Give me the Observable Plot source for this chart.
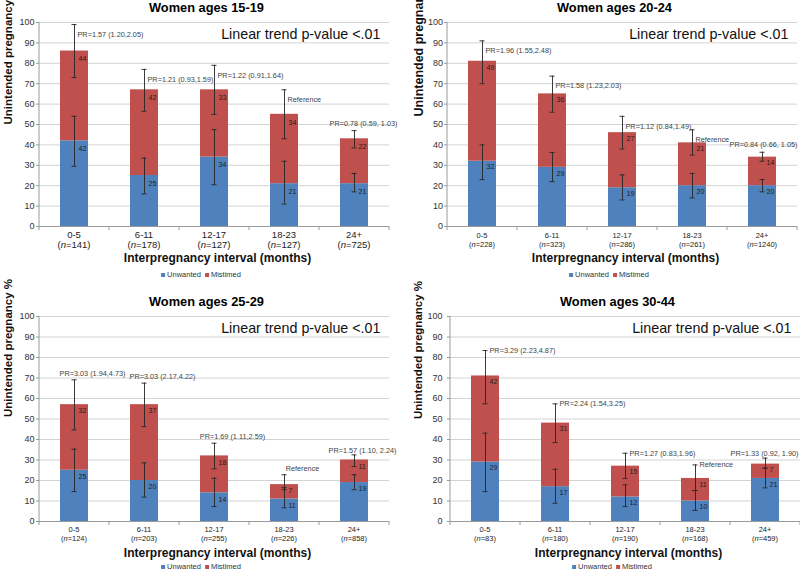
<!DOCTYPE html>
<html>
<head>
<meta charset="utf-8">
<script src="https://cdn.jsdelivr.net/npm/d3@7"></script>
<script src="https://cdn.jsdelivr.net/npm/@observablehq/plot@0.6"></script>
<style>
  html, body { margin: 0; padding: 0; background: #fff; }
  #root { position: relative; width: 800px; height: 572px; overflow: hidden; font-family: "Liberation Sans", Arial, sans-serif; }
  .panel { position: absolute; width: 400px; height: 286px; }
  .panel svg { position: absolute; left: 0; top: 0; overflow: visible; }
  .legend { position: absolute; transform: translate(-50%, -50%); font-size: 7.5px; line-height: 8px; color: #333; white-space: nowrap; display: flex; align-items: center; }
  .legend .item { display: inline-flex; align-items: center; margin: 0 2px; }
  .legend .sw { display: inline-block; width: 4px; height: 4px; margin-right: 2px; }
</style>
</head>
<body>
<div id="root"></div>
<script>
// ---------- shared labels ----------
const categories = ["0-5", "6-11", "12-17", "18-23", "24+"];
const seriesNames = ["Unwanted", "Mistimed"];
const seriesColors = ["#4F81BD", "#C0504D"];
const yTicks = [0, 10, 20, 30, 40, 50, 60, 70, 80, 90, 100];
const trendLabel = "Linear trend p-value <.01";
const xTitle = "Interpregnancy interval (months)";
const yTitle = "Unintended pregnancy %";

// ---------- Women ages 15-19 ----------
const title1519 = "Women ages 15-19";
const n1519 = [141, 178, 127, 127, 725];
const unwanted1519 = [42, 25, 34, 21, 21];
const mistimed1519 = [44, 42, 33, 34, 22];
const unwantedLo1519 = [29.5, 16, 20.5, 11, 17];
const unwantedHi1519 = [54, 33.5, 47.5, 32, 26];
const totalLo1519 = [73, 56.5, 55, 43, 38.5];
const totalHi1519 = [99, 77, 79, 67, 47];
const pr1519 = ["PR=1.57 (1.20,2.05)", "PR=1.21 (0.93,1.59)", "PR=1.22 (0.91,1.64)", "Reference", "PR=0.78 (0.59, 1.03)"];

// ---------- Women ages 20-24 ----------
const title2024 = "Women ages 20-24";
const n2024 = [228, 323, 286, 261, 1240];
const unwanted2024 = [32, 29, 19, 20, 20];
const mistimed2024 = [49, 36, 27, 21, 14];
const unwantedLo2024 = [23, 22, 13, 14, 17];
const unwantedHi2024 = [40, 36.3, 25.3, 26, 23];
const totalLo2024 = [70, 56, 38, 35, 32];
const totalHi2024 = [91, 73.7, 54, 47.4, 36.4];
const pr2024 = ["PR=1.96 (1.55,2.48)", "PR=1.58 (1.23,2.03)", "PR=1.12 (0.84,1.49)", "Reference", "PR=0.84 (0.66, 1.05)"];

// ---------- Women ages 25-29 ----------
const title2529 = "Women ages 25-29";
const n2529 = [124, 203, 255, 226, 858];
const unwanted2529 = [25, 20, 14, 11, 19];
const mistimed2529 = [32, 37, 18, 7, 11];
const unwantedLo2529 = [14.6, 11.9, 7.3, 6.7, 15.5];
const unwantedHi2529 = [35.3, 28.6, 21.1, 16.5, 22.8];
const totalLo2529 = [44.7, 46.3, 25.7, 15.5, 26.8];
const totalHi2529 = [69.1, 67.5, 38.2, 22.8, 32.5];
const pr2529 = ["PR=3.03 (1.94,4.73)", "PR=3.03 (2.17,4.22)", "PR=1.69 (1.11,2.59)", "Reference", "PR=1.57 (1.10, 2.24)"];

// ---------- Women ages 30-44 ----------
const title3044 = "Women ages 30-44";
const n3044 = [83, 180, 190, 168, 459];
const unwanted3044 = [29, 17, 12, 10, 21];
const mistimed3044 = [42, 31, 15, 11, 7];
const unwantedLo3044 = [14.6, 8.9, 7.3, 5.4, 16.4];
const unwantedHi3044 = [43.1, 25.5, 17.9, 15.1, 26];
const totalLo3044 = [57.4, 38.5, 21, 15.1, 26];
const totalHi3044 = [83.4, 57.4, 33.3, 27.6, 30.9];
const pr3044 = ["PR=3.29 (2.23,4.87)", "PR=2.24 (1.54,3.25)", "PR=1.27 (0.83,1.96)", "Reference", "PR=1.33 (0.92, 1.90)"];

// ---------- label placement styles ----------
const prStyles = {
  below: {textAnchor: "start", dx: 3, dy: 10, lineAnchor: "middle"},
  above: {textAnchor: "middle", dx: 18, dy: -4, lineAnchor: "bottom"},
  at:    {textAnchor: "start", dx: 4, dy: 0, lineAnchor: "middle"}
};

const panels = [
  {title: title1519, n: n1519, unwanted: unwanted1519, mistimed: mistimed1519, uLo: unwantedLo1519, uHi: unwantedHi1519, tLo: totalLo1519, tHi: totalHi1519, pr: pr1519,
   left: 0, top: 0, mt: 22, mb: 60, ml: 39, mr: 11, tickPad: 2, tickFont: 9.5, tick1: 11.5, tick2: 22, yTitleFont: 11.5, yTitleDx: -31.5, yTitleDy: 0, valDy: 8, prMode: "below", lastDx: 9, lastDy: -5, legendDy: 49},
  {title: title2024, n: n2024, unwanted: unwanted2024, mistimed: mistimed2024, uLo: unwantedLo2024, uHi: unwantedHi2024, tLo: totalLo2024, tHi: totalHi2024, pr: pr2024,
   left: 400, top: 0, mt: 22, mb: 60, ml: 47, mr: 3, tickPad: 1.5, tickFont: 7.5, tick1: 11.5, tick2: 20.5, yTitleFont: 12.5, yTitleDx: -29, yTitleDy: -8, valDy: 6, prMode: "below", lastDx: 1, lastDy: -5, legendDy: 49},
  {title: title2529, n: n2529, unwanted: unwanted2529, mistimed: mistimed2529, uLo: unwantedLo2529, uHi: unwantedHi2529, tLo: totalLo2529, tHi: totalHi2529, pr: pr2529,
   left: 0, top: 286, mt: 30, mb: 51, ml: 39, mr: 11, tickPad: 2, tickFont: 7.5, tick1: 11, tick2: 20.3, yTitleFont: 11.5, yTitleDx: -31.5, yTitleDy: -2, valDy: 6.5, prMode: "above", lastDx: 8, lastDy: -2, legendDy: 45.5},
  {title: title3044, n: n3044, unwanted: unwanted3044, mistimed: mistimed3044, uLo: unwantedLo3044, uHi: unwantedHi3044, tLo: totalLo3044, tHi: totalHi3044, pr: pr3044,
   left: 400, top: 286, mt: 30, mb: 51, ml: 50, mr: 0, tickPad: 5, tickFont: 7.5, tick1: 11, tick2: 20.3, yTitleFont: 11.5, yTitleDx: -32, yTitleDy: 0, valDy: 6, prMode: "at", lastDx: -1, lastDy: -2, legendDy: 45.5}
];

const AXIS = "#9a9a9a";
const GRID = "#d3d3d3";
const ERR = "#262626";

function decor(p) {
  return (index, scales, values, dims) => {
    const {x, y} = scales;
    const g = d3.create("svg:g").attr("font-family", "Liberation Sans, Arial, sans-serif");
    const y0 = y(0), y100 = y(100);
    const x0 = dims.marginLeft;
    g.append("line").attr("x1", x0).attr("x2", x0).attr("y1", y0).attr("y2", y100)
      .attr("stroke", AXIS).attr("stroke-width", 1);
    const bw = typeof x.bandwidth === "function" ? x.bandwidth() : (x.bandwidth || 0);
    const step = x(categories[1]) - x(categories[0]);
    const edges = categories.map(c => x(c) + bw / 2 - step / 2);
    edges.push(x(categories[categories.length - 1]) + bw / 2 + step / 2);
    for (const e of edges) {
      g.append("line").attr("x1", e).attr("x2", e).attr("y1", y0).attr("y2", y0 + 4)
        .attr("stroke", AXIS).attr("stroke-width", 1);
    }
    categories.forEach((c, i) => {
      const cx = x(c) + bw / 2;
      g.append("text").attr("x", cx).attr("y", y0 + p.tick1).attr("text-anchor", "middle")
        .attr("font-size", p.tickFont).attr("fill", "#222").text(c);
      const t2 = g.append("text").attr("x", cx).attr("y", y0 + p.tick2).attr("text-anchor", "middle")
        .attr("font-size", p.tickFont).attr("fill", "#222");
      t2.append("tspan").text("(");
      t2.append("tspan").attr("font-style", "italic").text("n");
      t2.append("tspan").text("=" + p.n[i] + ")");
    });
    return g.node();
  };
}

function makePlot(p) {
  const rows = [];
  seriesNames.forEach((s, k) => {
    categories.forEach((c, i) => {
      rows.push({cat: c, type: s, value: k === 0 ? p.unwanted[i] : p.mistimed[i]});
    });
  });
  const cats = categories.map((c, i) => ({
    cat: c, u: p.unwanted[i], m: p.mistimed[i], t: p.unwanted[i] + p.mistimed[i],
    uLo: p.uLo[i], uHi: p.uHi[i], tLo: p.tLo[i], tHi: p.tHi[i], pr: p.pr[i]
  }));
  const caps = [];
  cats.forEach(d => {
    caps.push({cat: d.cat, v: d.uLo}, {cat: d.cat, v: d.uHi}, {cat: d.cat, v: d.tLo}, {cat: d.cat, v: d.tHi});
  });
  const lastCat = categories[categories.length - 1];
  const prMain = cats.filter(d => d.cat !== lastCat);
  const prLast = cats.filter(d => d.cat === lastCat);
  const capInset = 11.5;

  return Plot.plot({
    width: 400,
    height: 286,
    marginTop: p.mt,
    marginBottom: p.mb,
    marginLeft: p.ml,
    marginRight: p.mr,
    style: {fontFamily: "Liberation Sans, Arial, sans-serif", background: "transparent", overflow: "visible"},
    x: {domain: categories, paddingInner: 0.6, paddingOuter: 0.3, axis: null},
    y: {domain: [0, 100], label: null},
    color: {domain: seriesNames, range: seriesColors},
    marks: [
      Plot.gridY(yTicks, {stroke: GRID, strokeOpacity: 1, strokeWidth: 1}),
      Plot.axisY(yTicks, {tickSize: 3, tickPadding: p.tickPad, fontSize: 9, label: null, stroke: AXIS, fill: "#333"}),
      Plot.barY(rows, {x: "cat", y: "value", fill: "type"}),
      Plot.ruleY([0], {stroke: AXIS, strokeWidth: 1}),
      decor(p),
      Plot.ruleX(cats, {x: "cat", y1: "uLo", y2: "uHi", stroke: ERR, strokeWidth: 0.9}),
      Plot.ruleX(cats, {x: "cat", y1: "tLo", y2: "tHi", stroke: ERR, strokeWidth: 0.9}),
      Plot.tickY(caps, {x: "cat", y: "v", stroke: ERR, strokeWidth: 0.9, insetLeft: capInset, insetRight: capInset}),
      Plot.text(cats, {x: "cat", y: "u", text: d => String(d.u), dx: 4, dy: p.valDy, textAnchor: "start", fontSize: 7, fill: "#1e1e1e"}),
      Plot.text(cats, {x: "cat", y: "t", text: d => String(d.m), dx: 4, dy: p.valDy, textAnchor: "start", fontSize: 7, fill: "#1e1e1e"}),
      Plot.text(prMain, {x: "cat", y: "tHi", text: "pr", fontSize: 7.3, fill: "#444", ...prStyles[p.prMode]}),
      Plot.text(prLast, {x: "cat", y: "tHi", text: "pr", fontSize: 7.3, fill: "#444", textAnchor: "middle", lineAnchor: "bottom", dx: p.lastDx, dy: p.lastDy}),
      Plot.text([trendLabel], {text: d => d, frameAnchor: "top-right", dx: -9, dy: 11.5, lineAnchor: "middle", textAnchor: "end", fontSize: 14.3, fill: "#111"}),
      Plot.text([p.title], {text: d => d, frameAnchor: "top", dx: -8, dy: -10.5, lineAnchor: "bottom", fontSize: 12.8, fontWeight: "bold", fill: "#000"}),
      Plot.text([xTitle], {text: d => d, frameAnchor: "bottom", dx: 3, dy: 32, lineAnchor: "middle", fontSize: 12, fontWeight: "bold", fill: "#111"}),
      Plot.text([yTitle], {text: d => d, frameAnchor: "left", rotate: -90, dx: p.yTitleDx, dy: p.yTitleDy, lineAnchor: "middle", fontSize: p.yTitleFont, fontWeight: "bold", fill: "#111"})
    ]
  });
}

const root = document.getElementById("root");
for (const p of panels) {
  const div = document.createElement("div");
  div.className = "panel";
  div.style.left = p.left + "px";
  div.style.top = p.top + "px";
  div.appendChild(makePlot(p));
  const lg = document.createElement("div");
  lg.className = "legend";
  lg.style.left = ((p.ml + 400 - p.mr) / 2 - 13) + "px";
  lg.style.top = (286 - p.mb + p.legendDy) + "px";
  seriesNames.forEach((s, k) => {
    const it = document.createElement("span");
    it.className = "item";
    const sw = document.createElement("span");
    sw.className = "sw";
    sw.style.background = seriesColors[k];
    it.appendChild(sw);
    it.appendChild(document.createTextNode(s));
    lg.appendChild(it);
  });
  div.appendChild(lg);
  root.appendChild(div);
}
</script>
</body>
</html>
